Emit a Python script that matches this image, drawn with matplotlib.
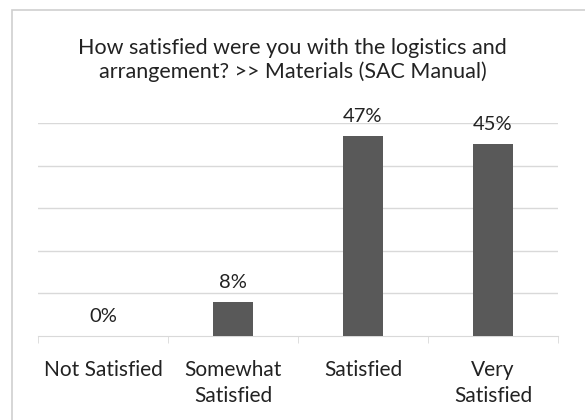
import matplotlib.pyplot as plt
from matplotlib.patches import Rectangle

categories = ["Not Satisfied", "Somewhat\nSatisfied", "Satisfied", "Very\nSatisfied"]
shares = [0.0, 0.08, 0.47, 0.45]
value_labels = ["0%", "8%", "47%", "45%"]
title = "How satisfied were you with the logistics and\narrangement? >> Materials (SAC Manual)"

plt.rcParams["font.family"] = ["Lato", "DejaVu Sans"]

W, H = 585, 420
fig = plt.figure(figsize=(W / 100, H / 100), dpi=100)
fig.patch.set_facecolor("white")

# chart border (scan shows only top/left edge)
fig.patches.append(Rectangle((12 / W, -0.05), 1.1, (H - 10) / H + 0.05,
                             transform=fig.transFigure, fill=False,
                             edgecolor="#cfcfcf", linewidth=1.2))

ax = fig.add_axes([38 / W, (H - 336) / H, (558 - 38) / W, (336 - 123) / H])
x = range(len(categories))
bars = ax.bar(x, shares, width=0.31, color="#595959", zorder=3)

for rect, lab in zip(bars, value_labels):
    ax.annotate(lab, (rect.get_x() + rect.get_width() / 2, rect.get_height()),
                xytext=(0, 8), textcoords="offset points", ha="center",
                va="bottom", fontsize=14.5, color="#222222")

ax.set_ylim(0, 0.5)
ax.set_xlim(-0.5, len(categories) - 0.5)
ax.set_yticks([0.1, 0.2, 0.3, 0.4, 0.5])
ax.yaxis.grid(True, color="#d9d9d9", linewidth=1, zorder=0)
ax.tick_params(axis="y", left=False, labelleft=False)
ax.set_xticks(list(x))
ax.set_xticklabels(categories, fontsize=15, color="#222222", linespacing=1.4)
ax.tick_params(axis="x", length=0, pad=17)
ax.set_xticks([i - 0.5 for i in range(len(categories) + 1)], minor=True)
ax.tick_params(axis="x", which="minor", length=5, color="#d9d9d9")
for side in ("top", "right", "left"):
    ax.spines[side].set_visible(False)
ax.spines["bottom"].set_color("#d9d9d9")

fig.text(0.5, (H - 60) / H, title, ha="center", va="center", fontsize=15.5,
         color="#222222", linespacing=1.2)

fig.savefig("out.png", dpi=100)
